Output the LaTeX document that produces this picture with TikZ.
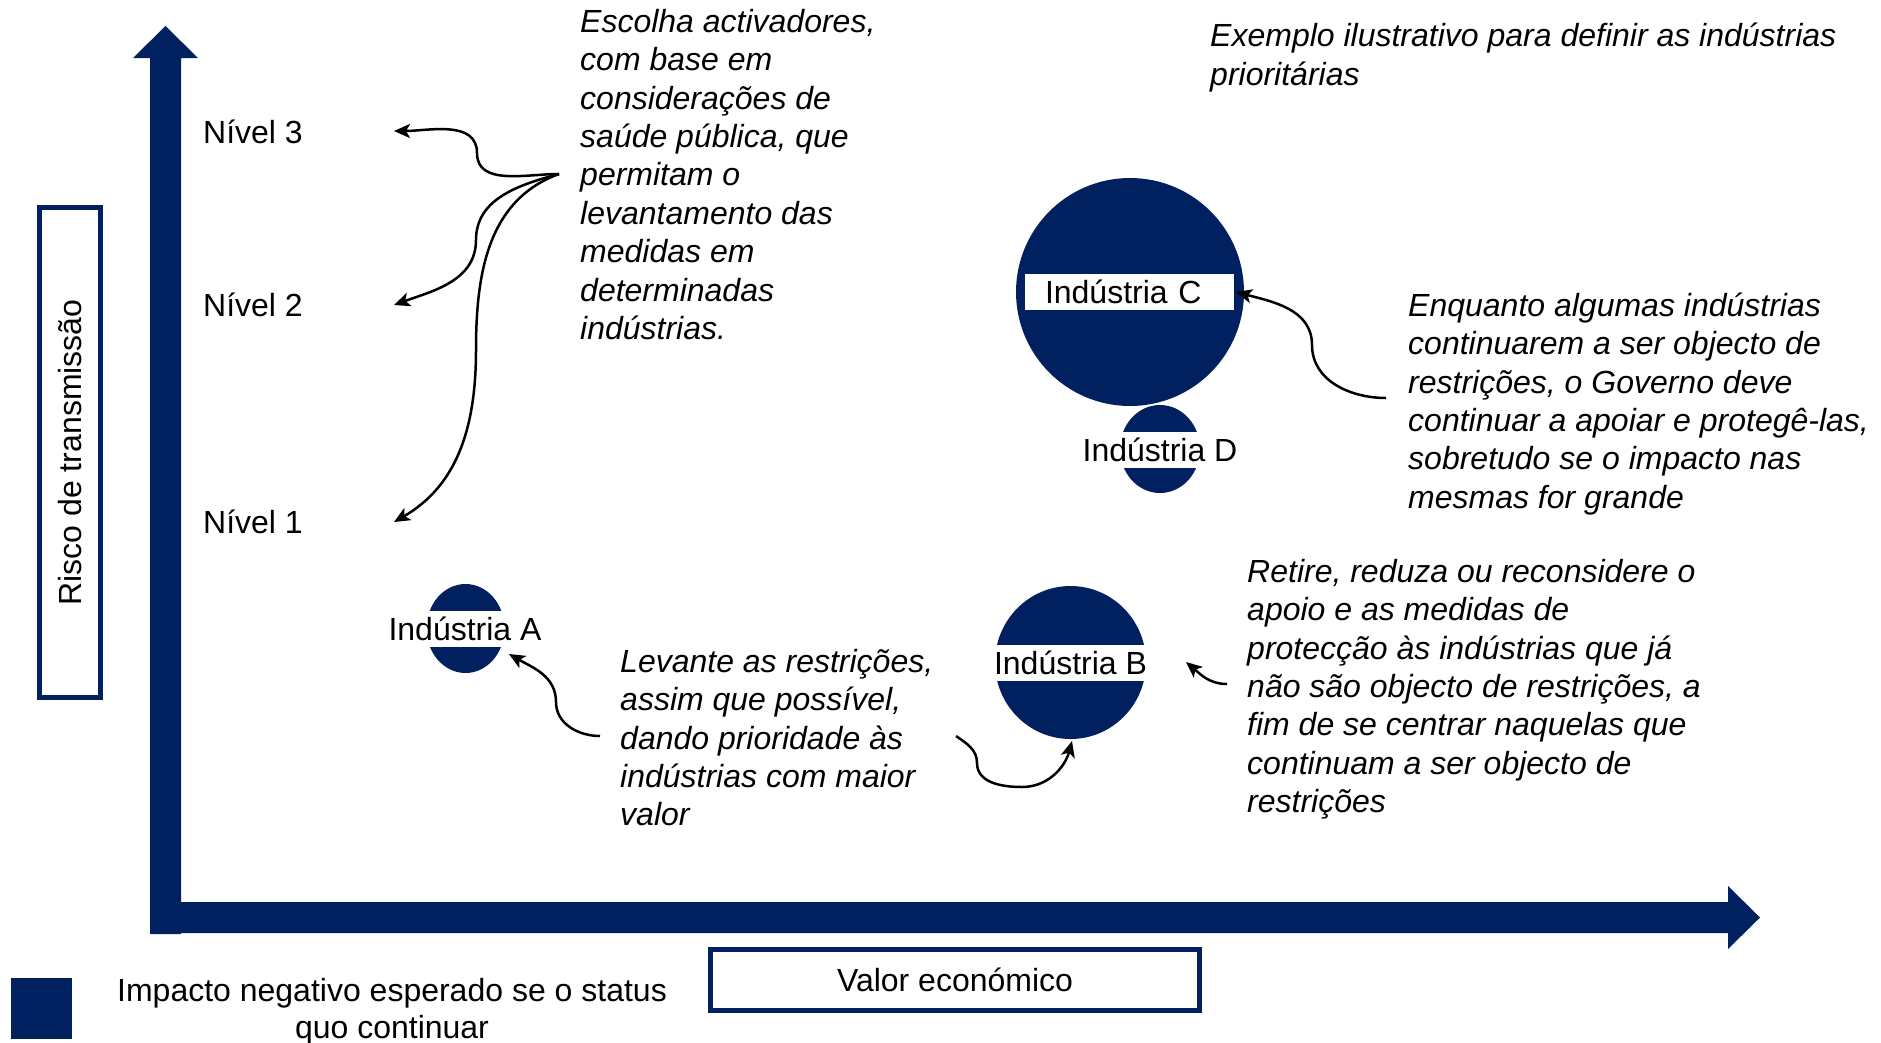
\documentclass[tikz,border=0pt]{standalone}
\usepackage{fontspec}
\setmainfont{Liberation Sans}
\usetikzlibrary{arrows.meta,shapes.geometric}
\definecolor{navy}{HTML}{002060}
\begin{document}
\begin{tikzpicture}[x=1pt,y=-1pt,
  txt/.style={inner sep=0pt, font=\fontsize{32}{38.4}\selectfont},
  itxt/.style={inner sep=0pt, align=left, anchor=north west, font=\fontsize{32}{38.4}\selectfont\itshape},
  conn/.style={line width=2.5pt, draw=black, -{Stealth[length=16pt,width=14pt,inset=4pt]}},
  lbox/.style={draw=navy, line width=5pt, fill=white, inner sep=0pt, font=\fontsize{32}{38.4}\selectfont},
  band/.style={fill=white, inner sep=0pt, minimum height=36pt, font=\fontsize{32}{38.4}\selectfont},
  blob/.style={ellipse, fill=navy, inner sep=0pt},
]
\useasboundingbox (0,0) rectangle (1881,1042);
\fill[white] (0,0) rectangle (1881,1042);

% axes
\fill[navy] (150,58) -- (133,58) -- (165.5,26) -- (198,58) -- (181,58) -- (181,934) -- (150,934) -- cycle;
\fill[navy] (180,902) -- (1728,902) -- (1728,886) -- (1760,917.5) -- (1728,949) -- (1728,933) -- (180,933) -- cycle;

% axis label boxes
\node[lbox, rotate=90, minimum width=490pt, minimum height=61pt] (ybox) at (70,452.5) {Risco de transmissão};
\node[lbox, minimum width=489pt, minimum height=61pt] (xbox) at (955,980) {Valor económico};

% legend
\node[fill=navy, minimum size=61pt, inner sep=0pt] (legsq) at (41,1008.5) {};
\node[txt, align=center, anchor=north, font=\fontsize{32}{37}\selectfont] (legtxt) at (392,976) {\rule{0pt}{25pt}Impacto negativo esperado se o status\\quo continuar};

% levels
\node[txt, anchor=base west] (n3) at (203,143) {Nível 3};
\node[txt, anchor=base west] (n2) at (203,316) {Nível 2};
\node[txt, anchor=base west] (n1) at (203,533) {Nível 1};

% industries
\node[blob, minimum width=228pt, minimum height=228pt] (cC) at (1130,292) {};
\node[band, minimum width=209pt, text width=169pt, inner xsep=20pt, align=left] (lC) at (1129.5,292) {Indústria C};
\node[blob, minimum width=80pt, minimum height=88pt] (cD) at (1160,449) {};
\node[band, minimum width=80pt] (lD) at (1160,450) {Indústria D};
\node[blob, minimum width=78pt, minimum height=89pt] (cA) at (465.5,628.5) {};
\node[band, minimum width=78pt] (lA) at (465,629) {Indústria A};
\node[blob, minimum width=151pt, minimum height=153pt] (cB) at (1070.5,662.5) {};
\node[band, minimum width=151pt] (lB) at (1070.5,663) {Indústria B};

% texts
\node[itxt] (tEsc) at (580,7) {\rule{0pt}{25pt}Escolha activadores,\\com base em\\considerações de\\saúde pública, que\\permitam o\\levantamento das\\medidas em\\determinadas\\indústrias.};
\node[itxt] (tEx) at (1210,21.7) {\rule{0pt}{25pt}Exemplo ilustrativo para definir as indústrias\\prioritárias};
\node[itxt] (tEnq) at (1408,291) {\rule{0pt}{25pt}Enquanto algumas indústrias\\continuarem a ser objecto de\\restrições, o Governo deve\\continuar a apoiar e protegê-las,\\sobretudo se o impacto nas\\mesmas for grande};
\node[itxt] (tLev) at (620,647) {\rule{0pt}{25pt}Levante as restrições,\\assim que possível,\\dando prioridade às\\indústrias com maior\\valor};
\node[itxt] (tRet) at (1247,557) {\rule{0pt}{25pt}Retire, reduza ou reconsidere o\\apoio e as medidas de\\protecção às indústrias que já\\não são objecto de restrições, a\\fim de se centrar naquelas que\\continuam a ser objecto de\\restrições};

% connector points
\coordinate (s1) at (559,174);
\coordinate (m3) at (477,153);
\coordinate (t3) at (394,131);
\coordinate (m2) at (476,240);
\coordinate (t2) at (394,305);
\coordinate (m1) at (476,350);
\coordinate (t1) at (394,522);
\coordinate (cs) at (1386,398);
\coordinate (cm) at (1312,345);
\coordinate (ct) at (1236,292);
\coordinate (as) at (600,736);
\coordinate (am) at (556,702);
\coordinate (at) at (509,654);
\coordinate (bs) at (956,736);
\coordinate (bm1) at (977,763);
\coordinate (bm2) at (1022,787);
\coordinate (bt) at (1072,741);
\coordinate (rs) at (1227,684);
\coordinate (rt) at (1186,662);

% connectors
\draw[conn] (s1) to[out=180,in=-90] (m3) to[out=90,in=0] (t3);
\draw[conn] (s1) to[out=195,in=90] (m2) to[out=-90,in=20] (t2);
\draw[conn] (s1) to[out=200,in=90] (m1) to[out=-90,in=30] (t1);
\draw[conn] (cs) to[out=180,in=-90] (cm) to[out=90,in=-15] (ct);
\draw[conn] (as) to[out=180,in=-90] (am) to[out=90,in=-30] (at);
\draw[conn] (bs) to[out=-35,in=90] (bm1) to[out=-90,in=180] (bm2) to[out=0,in=-105] (bt);
\draw[conn] (rs) to[out=180,in=-40] (rt);
\end{tikzpicture}
\end{document}
